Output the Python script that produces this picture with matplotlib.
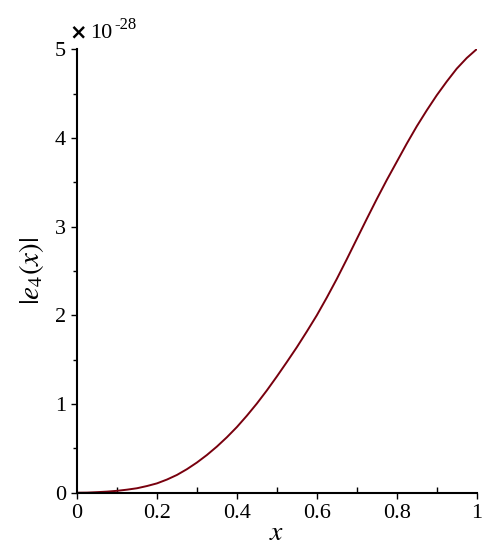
import numpy as np
import matplotlib
matplotlib.use('Agg')
import matplotlib.pyplot as plt
from matplotlib.ticker import MultipleLocator

# Datos (|e_4(x)| en unidades de 1e-28)
x_vals = [0.0, 0.025, 0.05, 0.075, 0.1, 0.125, 0.15, 0.175, 0.2, 0.225,
          0.25, 0.275, 0.3, 0.325, 0.35, 0.375, 0.4, 0.425, 0.45, 0.475,
          0.5, 0.525, 0.55, 0.575, 0.6, 0.625, 0.65, 0.675, 0.7, 0.725,
          0.75, 0.775, 0.8, 0.825, 0.85, 0.875, 0.9, 0.925, 0.95, 0.975, 1.0]
e4_vals = [0.0, 0.001, 0.006, 0.012, 0.021, 0.034, 0.05, 0.075, 0.105, 0.148,
           0.2, 0.265, 0.34, 0.425, 0.52, 0.625, 0.74, 0.868, 1.005, 1.153,
           1.31, 1.473, 1.64, 1.817, 2.00, 2.20, 2.41, 2.632, 2.86, 3.087,
           3.31, 3.525, 3.73, 3.935, 4.13, 4.31, 4.48, 4.635, 4.78, 4.90, 5.00]
x_ticks = [0, 0.2, 0.4, 0.6, 0.8, 1]
x_ticklabels = ['0', '0.2', '0.4', '0.6', '0.8', '1']
y_ticks = [0, 1, 2, 3, 4, 5]

plt.rcParams['font.family'] = ['Liberation Serif', 'DejaVu Serif']
plt.rcParams['mathtext.fontset'] = 'stix'

fig = plt.figure(figsize=(5.02, 5.50), dpi=100)
ax = fig.add_axes([0.1534, 0.1042, 0.7962, 0.8064])

ax.plot(x_vals, e4_vals, color='#78000e', linewidth=1.4)

ax.set_xlim(0, 1)
ax.set_ylim(0, 5)
ax.set_xticks(x_ticks)
ax.set_xticklabels(x_ticklabels)
ax.set_yticks(y_ticks)
ax.xaxis.set_minor_locator(MultipleLocator(0.1))
ax.yaxis.set_minor_locator(MultipleLocator(0.5))

for s in ['top', 'right']:
    ax.spines[s].set_visible(False)
for s in ['left', 'bottom']:
    ax.spines[s].set_linewidth(1.5)
    ax.spines[s].set_color('black')

ax.tick_params(axis='both', which='major', labelsize=16, width=1, length=4, pad=4)
ax.tick_params(axis='x', which='minor', direction='in', length=4, width=1)
ax.tick_params(axis='y', which='minor', direction='out', length=3, width=1)

ax.set_xlabel('$x$', fontsize=20, labelpad=-1)
ax.set_ylabel('$|e_4(x)|$', fontsize=21, labelpad=6)

# factor de escala arriba a la izquierda
fig.text(0.139, 0.923, '×', fontsize=15, family='DejaVu Sans', fontweight='bold', va='bottom')
fig.text(0.180, 0.921, '10', fontsize=16, va='bottom')
fig.text(0.228, 0.940, '-28', fontsize=12, va='bottom')

plt.savefig('out.png', dpi=100)
